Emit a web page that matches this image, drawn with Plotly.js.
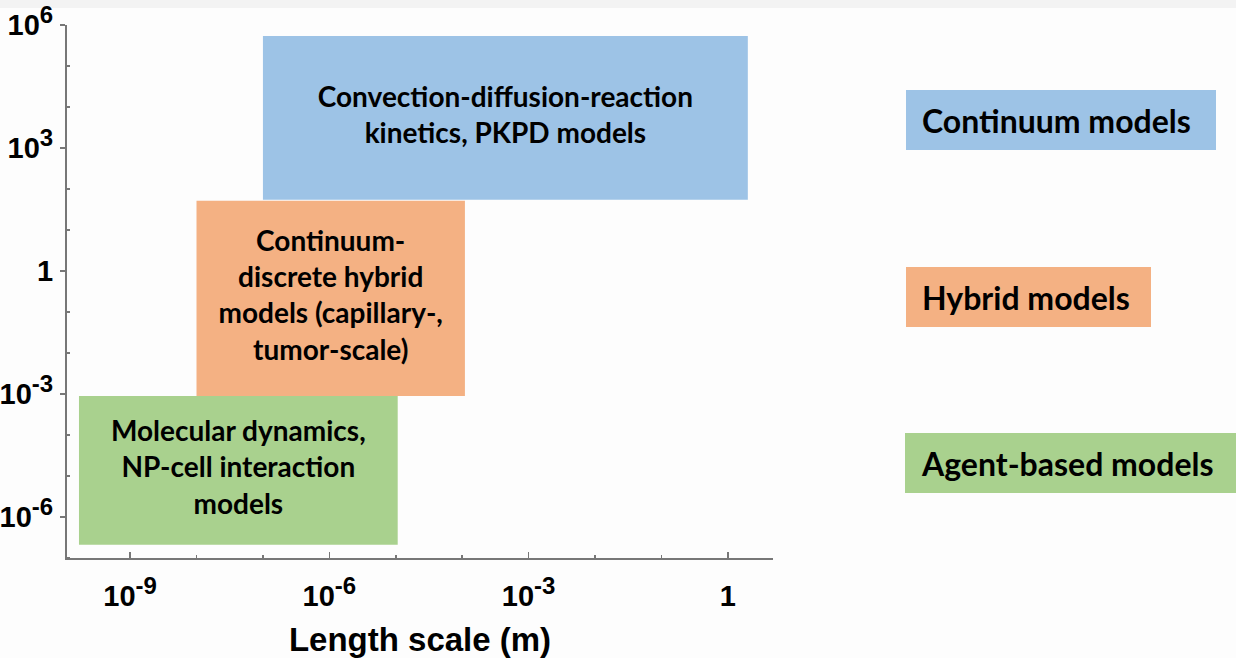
<!DOCTYPE html>
<html>
<head>
<meta charset="utf-8">
<script src="https://cdn.plot.ly/plotly-3.0.1.min.js"></script>
<style>html,body{margin:0;padding:0;background:#fdfdfd;}#chart{width:1236px;height:658px;}</style>
</head>
<body>
<div id="chart"></div>
<script>
// ---- data ----
const categories = ['Continuum models', 'Hybrid models', 'Agent-based models'];
const boxLabels = [
  'Convection-diffusion-reaction<br>kinetics, PKPD models',
  'Continuum-<br>discrete hybrid<br>models (capillary-,<br>tumor-scale)',
  'Molecular dynamics,<br>NP-cell interaction<br>models'
];
const lengthMin = [1e-7, 1e-8, 1.7e-10];
const lengthMax = [2, 1.1e-4, 1.07e-5];
const timeMin = [55, 9e-4, 2.1e-7];
const timeMax = [5.4e5, 52, 9e-4];
const colors = ['#9DC3E6', '#F4B183', '#A9D18E'];

const xTickVals = [1e-9, 1e-6, 1e-3, 1];
const xTickExp = ['-9', '-6', '-3', null];
const yTickVals = [1e6, 1e3, 1, 1e-3, 1e-6];
const yTickExp = ['6', '3', null, '-3', '-6'];
const xMinorVals = [1e-10, 1e-8, 1e-7, 1e-5, 1e-4, 1e-2, 1e-1, 10];
const yMinorVals = [1e5, 1e4, 1e2, 1e1, 1e-1, 1e-2, 1e-4, 1e-5, 1e-7];

// ---- layout constants ----
const W = 1236, H = 658;
const L = 67, R = 773, T = 25, B = 558;
const px2paperX = p => (p - L) / (R - L);
const px2paperY = p => (B - p) / (B - T);
const supSize = 24;
const tickLabel = e => e === null ? '1' : '10<sup><span style="font-size:' + supSize + 'px">' + e + '</span></sup>';

const boxFont = {family: 'Lato', size: 28, color: '#000', weight: 'bold'};
const traces = [];
categories.forEach((c, i) => {
  const x0 = lengthMin[i], x1 = lengthMax[i], y0 = timeMin[i], y1 = timeMax[i];
  traces.push({
    type: 'scatter', mode: 'lines', fill: 'toself',
    x: [x0, x1, x1, x0, x0], y: [y0, y0, y1, y1, y0],
    fillcolor: colors[i], line: {width: 0, color: colors[i]},
    hoverinfo: 'skip', showlegend: false, name: c
  });
});
categories.forEach((c, i) => {
  traces.push({
    type: 'scatter', mode: 'text',
    x: [Math.sqrt(lengthMin[i] * lengthMax[i])],
    y: [Math.sqrt(timeMin[i] * timeMax[i])],
    text: [boxLabels[i]], textposition: 'middle center',
    textfont: boxFont, hoverinfo: 'skip', showlegend: false, cliponaxis: false
  });
});

// legend-like boxes on the right (pixel positions of the figure)
const legBoxes = [
  {x0: 906, x1: 1216, y0: 90, y1: 150},
  {x0: 906, x1: 1151, y0: 267, y1: 327},
  {x0: 905, x1: 1240, y0: 433, y1: 493}
];
const shapes = [
  {type: 'rect', xref: 'paper', yref: 'paper', x0: -0.2, x1: 1.8,
   y0: px2paperY(8), y1: px2paperY(-2), fillcolor: '#f3f3f3', line: {width: 0}, layer: 'below'}
];
const annotations = [];
categories.forEach((c, i) => {
  const b = legBoxes[i];
  shapes.push({type: 'rect', xref: 'paper', yref: 'paper',
    x0: px2paperX(b.x0), x1: px2paperX(b.x1), y0: px2paperY(b.y1), y1: px2paperY(b.y0),
    fillcolor: colors[i], line: {width: 0}});
  annotations.push({xref: 'paper', yref: 'paper', x: px2paperX(b.x0 + 14),
    y: px2paperY((b.y0 + b.y1) / 2), xanchor: 'left', yanchor: 'middle',
    text: c, showarrow: false, font: {family: 'Lato', size: 32, color: '#000', weight: 'bold'}});
});

const tickFont = {family: 'Liberation Sans', size: 29, color: '#000', weight: 'bold'};
const layout = {
  width: W, height: H,
  margin: {l: L, r: W - R, t: T, b: H - B},
  paper_bgcolor: '#fdfdfd', plot_bgcolor: '#fdfdfd',
  showlegend: false,
  xaxis: {
    type: 'log', range: [-9.95, 0.68], automargin: false,
    showgrid: false, zeroline: false, showline: true, linecolor: '#777', linewidth: 2,
    tickmode: 'array', tickvals: xTickVals, ticktext: xTickExp.map(tickLabel),
    ticks: 'inside', ticklen: 6, tickwidth: 1.5, tickcolor: '#777',
    minor: {tickmode: 'array', tickvals: xMinorVals, ticks: 'inside', ticklen: 3, tickcolor: '#777', showgrid: false},
    tickfont: tickFont, ticklabelstandoff: 11,
    title: {text: 'Length scale (m)', font: {family: 'Liberation Sans', size: 33, color: '#000', weight: 'bold'}, standoff: 28}
  },
  yaxis: {
    type: 'log', range: [-7, 6], automargin: false,
    showgrid: false, zeroline: false, showline: true, linecolor: '#777', linewidth: 2,
    tickmode: 'array', tickvals: yTickVals, ticktext: yTickExp.map(tickLabel),
    ticks: 'outside', ticklen: 5, tickwidth: 1.5, tickcolor: '#777',
    minor: {tickmode: 'array', tickvals: yMinorVals, ticks: 'inside', ticklen: 3, tickcolor: '#777', showgrid: false},
    tickfont: tickFont, ticklabelstandoff: 1
  },
  shapes: shapes,
  annotations: annotations
};

Plotly.newPlot('chart', traces, layout, {displayModeBar: false, staticPlot: true});
</script>
</body>
</html>
